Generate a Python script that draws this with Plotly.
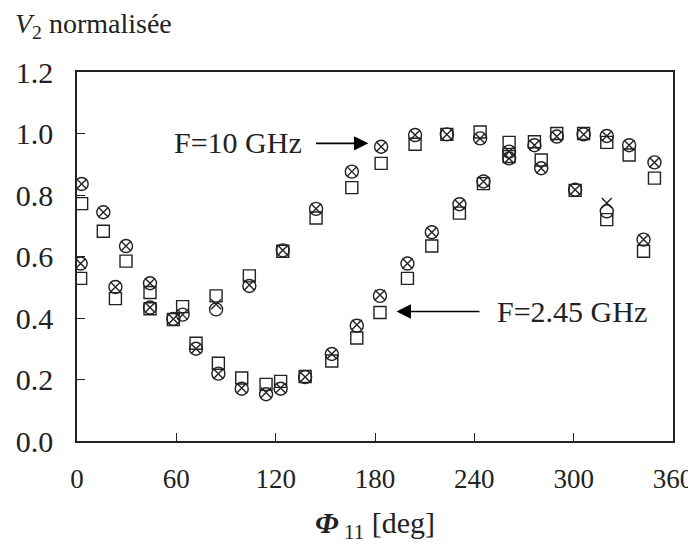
import plotly.graph_objects as go

# F = 10 GHz
phi_10 = [2.2, 23.2, 44.1, 63.8, 84.0, 104.1, 124.3, 144.4, 166.0, 183.7, 204.2, 223.4, 243.5, 261.0, 280.4, 300.9, 320.0, 342.2]
circ_10 = [0.577, 0.501, 0.434, 0.411, 0.428, 0.504, 0.620, 0.755, 0.876, 0.957, 0.995, 0.997, 0.984, 0.941, 0.887, 0.817, 0.747, 0.655]
cross_10 = [0.577, 0.501, 0.434, 0.411, 0.445, 0.507, 0.620, 0.755, 0.876, 0.957, 0.995, 0.997, 0.984, 0.941, 0.887, 0.817, 0.774, 0.655]
sq_10 = [0.529, 0.463, 0.430, 0.437, 0.472, 0.537, 0.617, 0.725, 0.824, 0.903, 0.965, 0.997, 1.005, 0.971, 0.914, 0.815, 0.720, 0.617]

# F = 2.45 GHz
phi_245 = [2.8, 15.9, 29.6, 44.1, 58.2, 71.9, 85.4, 99.5, 114.2, 123.0, 137.8, 153.9, 169.0, 183.0, 199.6, 214.3, 231.0, 245.5, 261.0, 276.3, 289.8, 306.0, 320.0, 333.5, 348.8]
circ_245 = [0.836, 0.744, 0.634, 0.513, 0.397, 0.300, 0.219, 0.170, 0.152, 0.170, 0.208, 0.283, 0.375, 0.472, 0.577, 0.679, 0.770, 0.844, 0.919, 0.962, 0.990, 0.997, 0.992, 0.962, 0.906]
cross_245 = [0.836, 0.744, 0.634, 0.513, 0.397, 0.300, 0.219, 0.172, 0.158, 0.172, 0.208, 0.283, 0.378, 0.475, 0.577, 0.679, 0.770, 0.844, 0.919, 0.962, 0.990, 0.997, 0.992, 0.962, 0.906]
sq_245 = [0.772, 0.682, 0.585, 0.483, 0.395, 0.318, 0.253, 0.205, 0.184, 0.194, 0.210, 0.260, 0.335, 0.418, 0.529, 0.634, 0.741, 0.837, 0.925, 0.973, 1.000, 1.000, 0.971, 0.930, 0.855]

x_ticks = [0, 60, 120, 180, 240, 300, 360]
y_ticks = [0.0, 0.2, 0.4, 0.6, 0.8, 1.0, 1.2]

INK = "#222222"
FONT = "Liberation Serif, Times New Roman, Times, serif"
FS = 30

fig = go.Figure()

def add_series(xs, ys, symbol, size):
    fig.add_trace(go.Scatter(
        x=xs, y=ys, mode="markers", showlegend=False, hoverinfo="skip",
        marker=dict(symbol=symbol, size=size, color=INK,
                    line=dict(color=INK, width=1.4)),
    ))

for xs, c, k, s in [(phi_10, circ_10, cross_10, sq_10), (phi_245, circ_245, cross_245, sq_245)]:
    add_series(xs, s, "square-open", 12)
    add_series(xs, c, "circle-open", 13)
    add_series(xs, k, "x-thin-open", 10)

fig.update_layout(
    width=696, height=544,
    margin=dict(l=69, r=31, t=64, b=111, autoexpand=False),
    paper_bgcolor="white", plot_bgcolor="white",
    font=dict(family=FONT, size=FS, color=INK),
    xaxis=dict(range=[0, 360], tickvals=x_ticks, ticktext=[str(v) for v in x_ticks],
               showgrid=False, zeroline=False, showline=True, mirror=True,
               linecolor=INK, linewidth=1.5, ticks="inside", ticklen=8,
               tickwidth=1.2, tickcolor=INK, ticklabelstandoff=13, automargin=False,
               tickfont=dict(size=27)),
    yaxis=dict(range=[0, 1.2], tickvals=y_ticks, ticktext=[f"{v:.1f}" for v in y_ticks],
               showgrid=False, zeroline=False, showline=True, mirror=True,
               linecolor=INK, linewidth=1.5, ticks="inside", ticklen=8,
               tickwidth=1.2, tickcolor=INK, ticklabelstandoff=16, automargin=False),
)

annotations = [
    dict(text="<i>V</i><sub>2</sub> normalisée", xref="paper", yref="paper",
         x=-0.108, y=1.125, xanchor="left", yanchor="middle", showarrow=False,
         font=dict(size=28)),
    dict(text="<b><i>Φ</i></b><sub> 11</sub> [deg]", xref="paper", yref="paper",
         x=0.5, y=-0.228, xanchor="center", yanchor="middle", showarrow=False,
         font=dict(size=FS)),
    dict(text="F=10 GHz", x=97, y=0.97, xref="x", yref="y", showarrow=False,
         xanchor="center", yanchor="middle", font=dict(size=FS)),
    dict(text="", x=176, y=0.968, ax=143.5, ay=0.968, xref="x", yref="y",
         axref="x", ayref="y", showarrow=True, arrowhead=2, arrowsize=1.8,
         arrowwidth=1.6, arrowcolor="black", standoff=0),
    dict(text="F=2.45 GHz", x=299, y=0.421, xref="x", yref="y", showarrow=False,
         xanchor="center", yanchor="middle", font=dict(size=FS)),
    dict(text="", x=193, y=0.421, ax=244, ay=0.421, xref="x", yref="y",
         axref="x", ayref="y", showarrow=True, arrowhead=2, arrowsize=1.8,
         arrowwidth=1.6, arrowcolor="black", standoff=0),
]
fig.update_layout(annotations=annotations)

fig.write_html("out.html")
